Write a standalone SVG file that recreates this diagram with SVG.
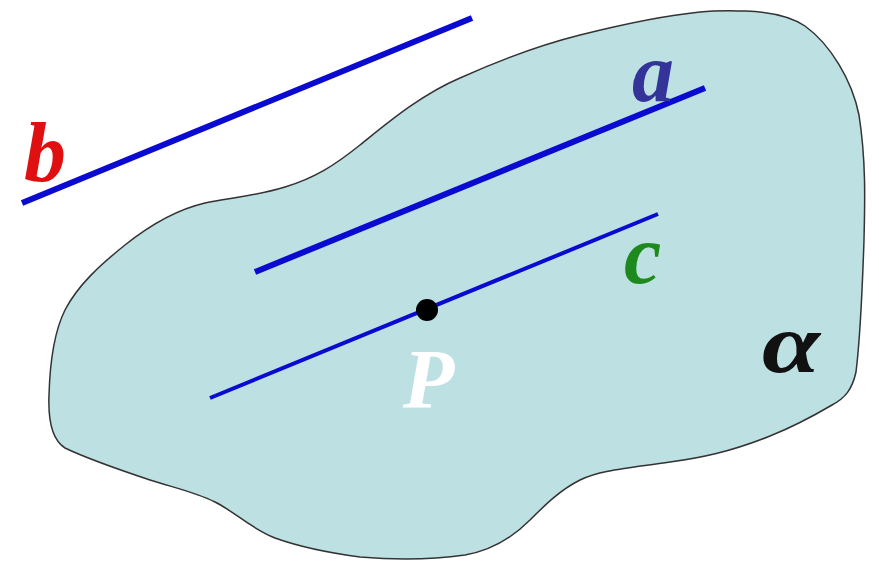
<svg xmlns="http://www.w3.org/2000/svg" width="879" height="564" viewBox="0 0 879 564">
<style>
.lbl{font-family:"Liberation Serif","DejaVu Serif",serif;font-style:italic;font-weight:bold;font-size:84px}
.ln{stroke:#0a0ad0;stroke-linecap:butt;fill:none}
</style>
<rect width="879" height="564" fill="#ffffff"/>
<g id="plane">
<path d="M746,11 C770,12 790,16 805,26 C830,44 852,80 859,115 C866,160 865,200 864,240 C862,300 860,340 856,372 C852,390 845,398 832,405 C810,418 790,428 770,436 C730,452 700,458 670,462 C630,468 600,470 580,480 C560,490 545,505 530,520 C515,535 495,550 465,555 C430,560 395,560 360,557 C330,553 300,547 275,538 C250,528 235,512 215,502 C195,492 175,488 150,480 C120,470 90,460 65,448 C52,440 48,420 49,395 C50,360 55,330 65,310 C78,285 100,265 125,245 C150,225 175,210 205,203 C230,198 260,195 285,187 C315,178 335,165 360,145 C385,125 420,95 460,78 C500,60 540,45 580,35 C620,25 660,16 700,12 C720,10 735,11 746,11 Z" fill="#bde0e2" stroke="#333333" stroke-width="1.5"/>
</g>
<g id="lines">
<line id="line-b" class="ln" x1="22" y1="203" x2="472" y2="18" stroke-width="6"/>
<line id="line-a" class="ln" x1="255" y1="272" x2="705" y2="88" stroke-width="6"/>
<line id="line-c" class="ln" x1="210" y1="398" x2="658" y2="214" stroke-width="4"/>
</g>
<g id="point-P">
<circle cx="427" cy="310" r="11" fill="#000000"/>
</g>
<g id="labels">
<text class="lbl" x="24" y="181" fill="#e01010">b</text>
<text class="lbl" x="632" y="101" fill="#333399">a</text>
<text class="lbl" x="624" y="283" fill="#1e8a1e">c</text>
<text class="lbl" x="403" y="408" fill="#ffffff">P</text>
<text class="lbl" x="762" y="372" fill="#111111" textLength="58" lengthAdjust="spacingAndGlyphs">α</text>
</g>
</svg>
